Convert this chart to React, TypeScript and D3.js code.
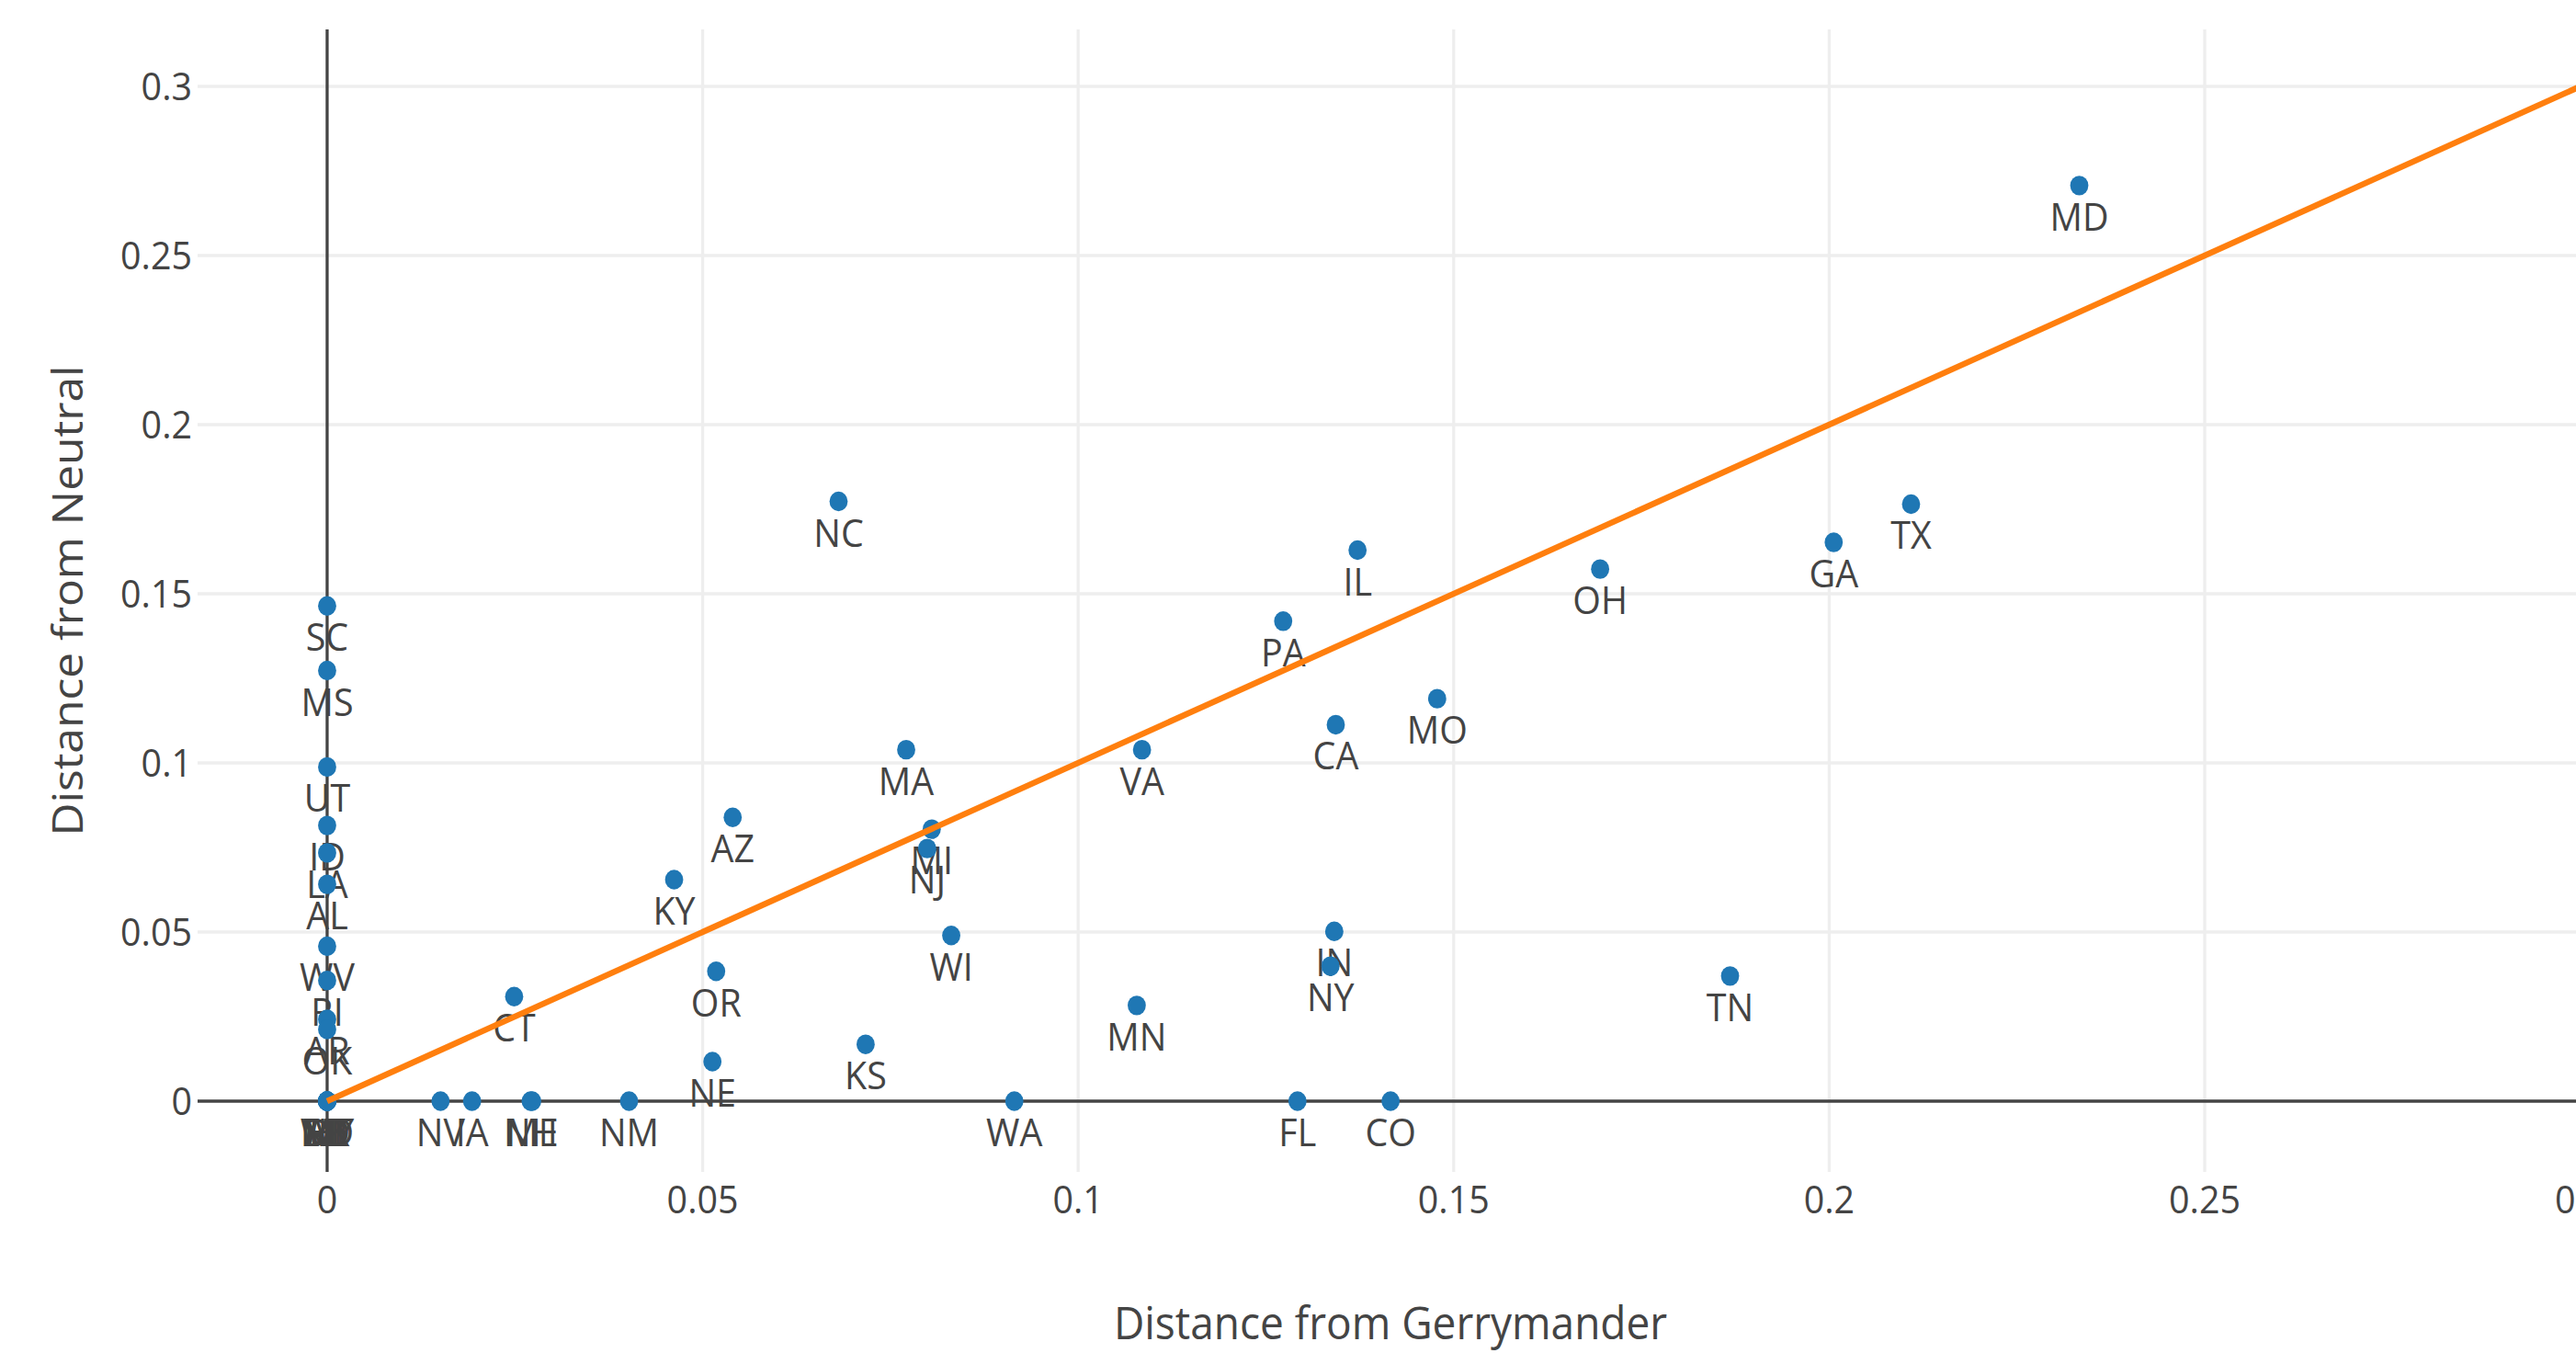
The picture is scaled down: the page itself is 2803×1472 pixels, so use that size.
import React from "react";
import * as d3 from "d3";

const states = [
  "MD", "TX", "GA", "OH", "IL", "PA", "MO", "CA", "VA", "NC", "MA", "MI", "NJ", "AZ", "KY", "WI",
  "IN", "NY", "TN", "MN", "OR", "NE", "KS", "CT",
  "SC", "MS", "UT", "ID", "LA", "AL", "WV", "RI", "AR", "OK",
  "NV", "IA", "NH", "ME", "NM", "WA", "FL", "CO",
  "AK", "DE", "HI", "MT", "ND", "SD", "VT", "WY",
];

const distGerrymander = [
  0.2333, 0.2109, 0.2006, 0.1695, 0.1372, 0.1273, 0.1478, 0.1343, 0.1085, 0.0681, 0.0771, 0.0805, 0.0799, 0.054, 0.0462, 0.0831,
  0.1341, 0.1336, 0.1868, 0.1078, 0.0518, 0.0513, 0.0717, 0.0249,
  0, 0, 0, 0, 0, 0, 0, 0, 0, 0,
  0.0151, 0.0193, 0.0271, 0.0273, 0.0402, 0.0915, 0.1292, 0.1416,
  0, 0, 0, 0, 0, 0, 0, 0,
];

const distNeutral = [
  0.2707, 0.1765, 0.1652, 0.1573, 0.1629, 0.1419, 0.119, 0.1113, 0.1039, 0.1773, 0.1039, 0.0804, 0.0747, 0.0839, 0.0655, 0.049,
  0.0502, 0.0399, 0.037, 0.0283, 0.0384, 0.0117, 0.0168, 0.0309,
  0.1464, 0.1273, 0.0988, 0.0815, 0.0734, 0.0641, 0.0458, 0.0357, 0.0242, 0.0212,
  0, 0, 0, 0, 0, 0, 0, 0,
  0, 0, 0, 0, 0, 0, 0, 0,
];

const lineX = [0, 0.3];
const lineY = [0, 0.3];

const xTicks = [0, 0.05, 0.1, 0.15, 0.2, 0.25, 0.3];
const xTickLabels = ["0", "0.05", "0.1", "0.15", "0.2", "0.25", "0.3"];
const yTicks = [0, 0.05, 0.1, 0.15, 0.2, 0.25, 0.3];
const yTickLabels = ["0", "0.05", "0.1", "0.15", "0.2", "0.25", "0.3"];

const W = 2803;
const H = 1472;
const L = 215;
const R = 2812;
const T = 32;
const B = 1275;

const FONT = "'Open Sans', 'DejaVu Sans', sans-serif";
const TXT = "#444";
const SY = 1.08;

export default function App() {
  const x = d3.scaleLinear().domain([-0.01725, 0.30054]).range([L, R]);
  const y = d3.scaleLinear().domain([-0.02092, 0.31685]).range([B, T]);
  const line = d3
    .line<number>()
    .x((d) => x(lineX[d]))
    .y((d) => y(lineY[d]));

  const idx = states.map((_, i) => i);

  return (
    <svg
      width={W}
      height={H}
      style={{ position: "absolute", left: 0, top: 0, background: "#fff", overflow: "hidden" }}
    >
      <rect x={0} y={0} width={W} height={H} fill="#fff" />
      {/* grid */}
      {xTicks
        .filter((t) => t !== 0)
        .map((t) => (
          <line key={"gx" + t} x1={x(t)} x2={x(t)} y1={T} y2={B} stroke="#eee" strokeWidth={3.3} />
        ))}
      {yTicks
        .filter((t) => t !== 0)
        .map((t) => (
          <line key={"gy" + t} x1={L} x2={R} y1={y(t)} y2={y(t)} stroke="#eee" strokeWidth={3.3} />
        ))}
      {/* zero lines */}
      <line x1={x(0)} x2={x(0)} y1={T} y2={B} stroke="#444" strokeWidth={3.3} />
      <line x1={L} x2={R} y1={y(0)} y2={y(0)} stroke="#444" strokeWidth={3.3} />

      {/* tick labels */}
      {xTicks.map((t, i) => (
        <text
          key={"xt" + t}
          transform={`translate(${x(t)},1320) scale(1,${SY})`}
          textAnchor="middle"
          fontFamily={FONT}
          fontSize={39.4}
          fill={TXT}
        >
          {xTickLabels[i]}
        </text>
      ))}
      {yTicks.map((t, i) => (
        <text
          key={"yt" + t}
          transform={`translate(209,${y(t) + 15}) scale(1,${SY})`}
          textAnchor="end"
          fontFamily={FONT}
          fontSize={39.4}
          fill={TXT}
        >
          {yTickLabels[i]}
        </text>
      ))}

      {/* axis titles */}
      <text
        transform={`translate(1513,1457) scale(1,${SY})`}
        textAnchor="middle"
        fontFamily={FONT}
        fontSize={46}
        fill={TXT}
      >
        Distance from Gerrymander
      </text>
      <text
        transform={`translate(90,${(T + B) / 2}) scale(1,${SY}) rotate(-90)`}
        textAnchor="middle"
        fontFamily={FONT}
        fontSize={46}
        fill={TXT}
      >
        Distance from Neutral
      </text>

      {/* point labels */}
      {idx.map((i) => (
        <text
          key={"lb" + i}
          transform={`translate(${x(distGerrymander[i])},${y(distNeutral[i]) + 49}) scale(1,${SY})`}
          textAnchor="middle"
          fontFamily={FONT}
          fontSize={39.4}
          fill={TXT}
        >
          {states[i]}
        </text>
      ))}

      {/* markers */}
      {idx.map((i) => (
        <ellipse
          key={"pt" + i}
          cx={x(distGerrymander[i])}
          cy={y(distNeutral[i])}
          rx={9.9}
          ry={10.7}
          fill="#1f77b4"
        />
      ))}

      {/* y = x line */}
      <path d={line([0, 1]) || ""} fill="none" stroke="#ff7f0e" strokeWidth={6.5} />
    </svg>
  );
}
